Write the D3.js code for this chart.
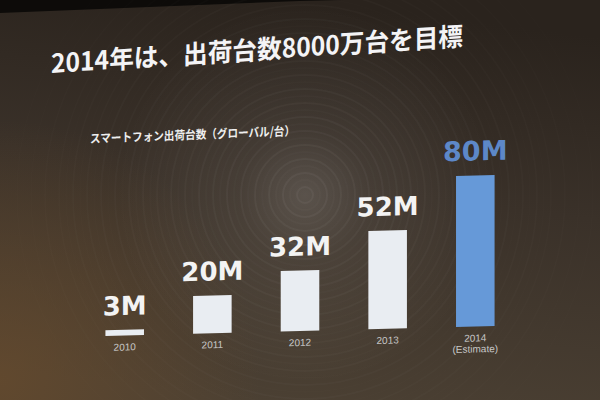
<!DOCTYPE html>
<html>
<head>
<meta charset="utf-8">
<script src="https://cdn.jsdelivr.net/npm/d3@7"></script>
<style>
  html, body { margin: 0; padding: 0; background: #0d0b09; }
  svg { display: block; }
</style>
</head>
<body>
<svg id="chart"></svg>
<script>
// data
var years = ["2010", "2011", "2012", "2013", "2014"];
var yearNotes = ["", "", "", "", "(Estimate)"];
var shipments = [3, 20, 32, 52, 80];           // millions of units
var valueLabels = ["3M", "20M", "32M", "52M", "80M"];
var title = "2014年は、出荷台数8000万台を目標";
var subtitle = "スマートフォン出荷台数（グローバル/台）";

var width = 600,
    height = 400,
    baseline = 331;

var svg = d3.select("#chart")
    .attr("width", width)
    .attr("height", height);

// background: projector screen, darker at top, warm at bottom left
var defs = svg.append("defs");

var base = defs.append("linearGradient")
    .attr("id", "screenBase")
    .attr("gradientUnits", "userSpaceOnUse")
    .attr("x1", 300).attr("y1", 0).attr("x2", 250).attr("y2", 400);
base.append("stop").attr("offset", 0).attr("stop-color", "#2a231d");
base.append("stop").attr("offset", 0.45).attr("stop-color", "#3a3129");
base.append("stop").attr("offset", 1).attr("stop-color", "#4b4033");

var warm = defs.append("radialGradient")
    .attr("id", "warm")
    .attr("gradientUnits", "userSpaceOnUse")
    .attr("cx", 0).attr("cy", 380).attr("r", 260);
warm.append("stop").attr("offset", 0).attr("stop-color", "#6a4c2c").attr("stop-opacity", 0.7);
warm.append("stop").attr("offset", 1).attr("stop-color", "#6a4c2c").attr("stop-opacity", 0);

var glow = defs.append("radialGradient")
    .attr("id", "glow")
    .attr("gradientUnits", "userSpaceOnUse")
    .attr("cx", 305).attr("cy", 195).attr("r", 190);
glow.append("stop").attr("offset", 0).attr("stop-color", "#ffffff").attr("stop-opacity", 0.16);
glow.append("stop").attr("offset", 0.35).attr("stop-color", "#ffffff").attr("stop-opacity", 0.06);
glow.append("stop").attr("offset", 1).attr("stop-color", "#ffffff").attr("stop-opacity", 0);

svg.append("rect")
    .attr("width", width)
    .attr("height", height)
    .attr("fill", "#0d0b09");

var screenPts = "0,13 300,1 600,-6 600,400 0,400";
svg.append("polygon").attr("points", screenPts).attr("fill", "url(#screenBase)");
svg.append("polygon").attr("points", screenPts).attr("fill", "url(#warm)");
svg.append("polygon").attr("points", screenPts).attr("fill", "url(#glow)");

svg.append("g")
    .selectAll("circle")
    .data(d3.range(8, 330, 7))
    .enter().append("circle")
    .attr("cx", 305)
    .attr("cy", 195)
    .attr("r", function (d) { return d; })
    .attr("fill", "none")
    .attr("stroke", "#ffffff")
    .attr("stroke-opacity", function (d, i) {
        return (i % 2 ? 0.02 : 0.045) * Math.max(0, 1 - d / 340);
    })
    .attr("stroke-width", 2);

// title
svg.append("g")
    .attr("transform", "translate(51,73) skewY(-3.8)")
    .append("text")
    .attr("font-family", "'Noto Sans CJK JP', sans-serif")
    .attr("font-weight", "bold")
    .attr("font-size", 26)
    .attr("fill", "#f4f4f6")
    .attr("textLength", 412)
    .attr("lengthAdjust", "spacingAndGlyphs")
    .text(title);

svg.append("g")
    .attr("transform", "translate(90,143) skewY(-2.2)")
    .append("text")
    .attr("font-family", "'Noto Sans CJK JP', sans-serif")
    .attr("font-weight", "bold")
    .attr("font-size", 12)
    .attr("fill", "#eeeeee")
    .attr("textLength", 205)
    .attr("lengthAdjust", "spacingAndGlyphs")
    .text(subtitle);

// chart
var data = years.map(function (d, i) {
    return {year: d, note: yearNotes[i], value: shipments[i], label: valueLabels[i], estimate: i === years.length - 1};
});

var xScale = d3.scaleBand()
    .domain(years)
    .range([80, 520])
    .paddingInner(0.56)
    .paddingOuter(0.29);

var yScale = d3.scaleLinear()
    .domain([0, 80])
    .range([baseline, baseline - 151]);

var g = svg.append("g")
    .attr("transform", "translate(300,0) skewY(-1.47) translate(-300,0)");

g.selectAll("rect.bar")
    .data(data)
    .enter().append("rect")
    .attr("class", "bar")
    .attr("x", function (d) { return xScale(d.year); })
    .attr("y", function (d) { return yScale(d.value); })
    .attr("width", xScale.bandwidth())
    .attr("height", function (d) { return baseline - yScale(d.value); })
    .attr("fill", function (d) { return d.estimate ? "#6699d8" : "#e9edf2"; });

g.selectAll("text.value")
    .data(data)
    .enter().append("text")
    .attr("class", "value")
    .attr("x", function (d) { return xScale(d.year) + xScale.bandwidth() / 2; })
    .attr("y", function (d) { return yScale(d.value) - 15; })
    .attr("text-anchor", "middle")
    .attr("font-family", "'DejaVu Sans', sans-serif")
    .attr("font-weight", "bold")
    .attr("font-size", function (d) { return d.estimate ? 27 : 26; })
    .attr("fill", function (d) { return d.estimate ? "#5d88c8" : "#f3f3f3"; })
    .text(function (d) { return d.label; });

var yearLabels = g.selectAll("text.year")
    .data(data)
    .enter().append("text")
    .attr("class", "year")
    .attr("x", function (d) { return xScale(d.year) + xScale.bandwidth() / 2; })
    .attr("y", baseline + 15)
    .attr("text-anchor", "middle")
    .attr("font-family", "'Liberation Sans', Arial, sans-serif")
    .attr("font-size", 10)
    .attr("fill", "#c8c8c8");

yearLabels.append("tspan")
    .text(function (d) { return d.year; });

yearLabels.filter(function (d) { return d.note; })
    .append("tspan")
    .attr("x", function (d) { return xScale(d.year) + xScale.bandwidth() / 2; })
    .attr("dy", 11)
    .text(function (d) { return d.note; });
</script>
</body>
</html>
